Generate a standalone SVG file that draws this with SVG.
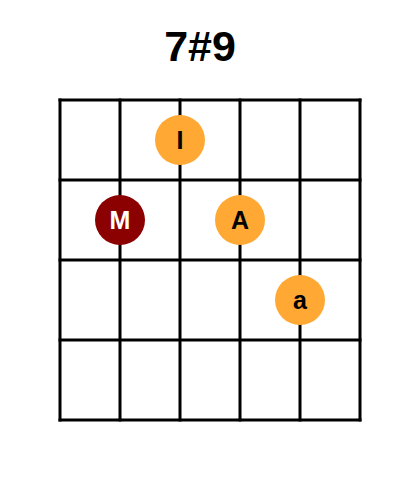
<svg xmlns="http://www.w3.org/2000/svg" width="400" height="500" viewBox="0 0 400 500">
<style>
.grid line{stroke:#000;stroke-width:3;stroke-linecap:square}
.title{font-family:"Liberation Sans",Arial,sans-serif;font-weight:bold;font-size:43px;fill:#000;text-anchor:middle}
.lbl{font-family:"Liberation Sans",Arial,sans-serif;font-weight:bold;font-size:25px;text-anchor:middle}
.or{fill:#FFA833}
.rd{fill:#8B0000}
</style>
<rect width="400" height="500" fill="#fff"/>
<text class="title" x="200" y="61">7#9</text>
<g id="grid" class="grid">
<line x1="60" y1="100" x2="360" y2="100"/>
<line x1="60" y1="180" x2="360" y2="180"/>
<line x1="60" y1="260" x2="360" y2="260"/>
<line x1="60" y1="340" x2="360" y2="340"/>
<line x1="60" y1="420" x2="360" y2="420"/>
<line x1="60" y1="100" x2="60" y2="420"/>
<line x1="120" y1="100" x2="120" y2="420"/>
<line x1="180" y1="100" x2="180" y2="420"/>
<line x1="240" y1="100" x2="240" y2="420"/>
<line x1="300" y1="100" x2="300" y2="420"/>
<line x1="360" y1="100" x2="360" y2="420"/>
</g>
<g id="node-I"><circle class="or" cx="180" cy="140" r="25"/><text class="lbl" x="180" y="149" fill="#000">I</text></g>
<g id="node-M"><circle class="rd" cx="120" cy="220" r="25"/><text class="lbl" x="120" y="229" fill="#fff">M</text></g>
<g id="node-A"><circle class="or" cx="240" cy="220" r="25"/><text class="lbl" x="240" y="229" fill="#000">A</text></g>
<g id="node-a"><circle class="or" cx="300" cy="300" r="25"/><text class="lbl" x="300" y="309" fill="#000">a</text></g>
</svg>
